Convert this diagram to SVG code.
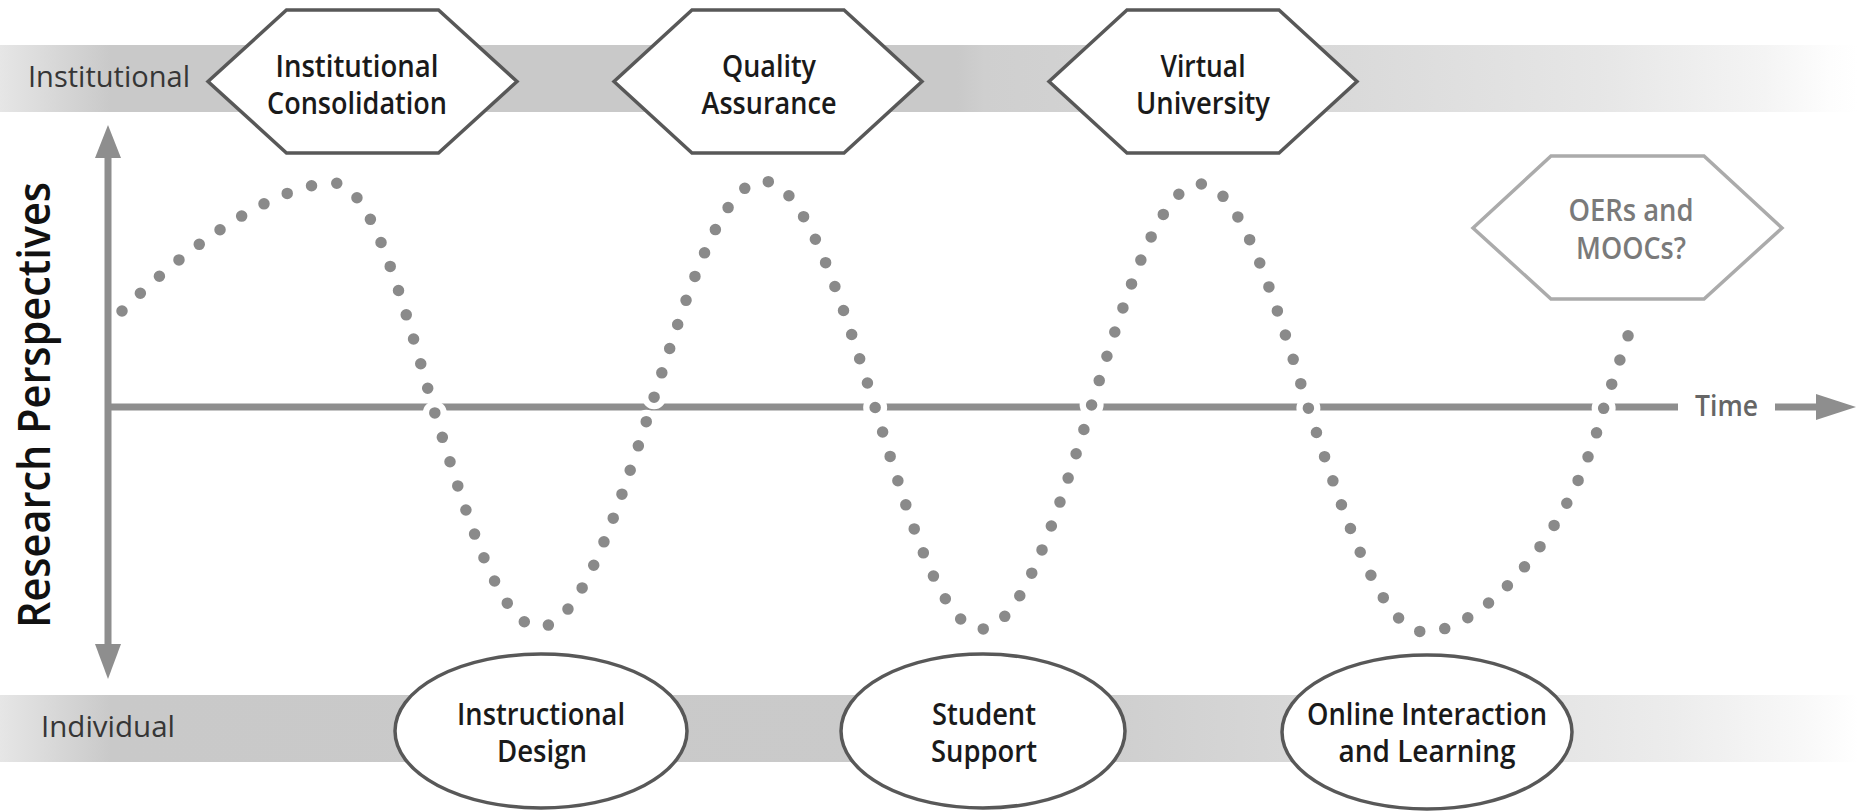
<svg xmlns="http://www.w3.org/2000/svg" width="1858" height="811" viewBox="0 0 1858 811">
<defs>
<linearGradient id="gradTop" x1="0" y1="0" x2="1858" y2="0" gradientUnits="userSpaceOnUse">
<stop offset="0" stop-color="#e6e6e6"/>
<stop offset="0.06" stop-color="#c9c9c9"/>
<stop offset="0.515" stop-color="#c9c9c9"/>
<stop offset="0.53" stop-color="#cfcfcf"/>
<stop offset="0.73" stop-color="#dadada"/>
<stop offset="0.86" stop-color="#e6e6e6"/>
<stop offset="0.95" stop-color="#f4f4f4"/>
<stop offset="0.985" stop-color="#fdfdfd"/>
<stop offset="1" stop-color="#ffffff"/>
</linearGradient>
<linearGradient id="gradBottom" x1="0" y1="0" x2="1858" y2="0" gradientUnits="userSpaceOnUse">
<stop offset="0" stop-color="#e6e6e6"/>
<stop offset="0.06" stop-color="#c9c9c9"/>
<stop offset="0.5" stop-color="#cacaca"/>
<stop offset="0.6" stop-color="#cfcfcf"/>
<stop offset="0.69" stop-color="#d7d7d7"/>
<stop offset="0.8" stop-color="#e1e1e1"/>
<stop offset="0.9" stop-color="#ececec"/>
<stop offset="0.97" stop-color="#f8f8f8"/>
<stop offset="1" stop-color="#ffffff"/>
</linearGradient>
<style>
.band-label { font-family: "Open Sans", "Liberation Sans", sans-serif; font-size: 30px; fill: #363636; }
.node-text { font-family: "Open Sans", "Liberation Sans", sans-serif; font-size: 30px; font-weight: 600; fill: #1a1a1a; text-anchor: middle; }
.faded-text { fill: #7a7a7a; }
.axis-title { font-family: "Open Sans", "Liberation Sans", sans-serif; font-size: 45px; font-weight: 600; fill: #111111; text-anchor: middle; }
.time-label { font-family: "Open Sans", "Liberation Sans", sans-serif; font-size: 29px; font-weight: 600; fill: #666666; }
.hex { fill: #ffffff; stroke: #585858; stroke-width: 3.5; }
.hex-faded { fill: #ffffff; stroke: #ababab; stroke-width: 3.5; }
.ell { fill: #ffffff; stroke: #585858; stroke-width: 3.5; }
.axis { fill: none; stroke: #8e8e8e; stroke-width: 7; }
.head { fill: #8e8e8e; }
.halo { fill: none; stroke: #ffffff; stroke-width: 24; stroke-linecap: round; stroke-dasharray: 0 25.5; }
.wave { fill: none; stroke: #8a8a8a; stroke-width: 11.5; stroke-linecap: round; stroke-dasharray: 0 25.5; }
</style>
</defs>
<rect x="0" y="0" width="1858" height="811" fill="#ffffff"/>

<g id="bands">
<rect x="0" y="45" width="1858" height="67" fill="url(#gradTop)"/>
<rect x="0" y="695" width="1858" height="67" fill="url(#gradBottom)"/>
<text class="band-label" x="28" y="87" textLength="162" lengthAdjust="spacingAndGlyphs">Institutional</text>
<text class="band-label" x="41" y="737" textLength="134" lengthAdjust="spacingAndGlyphs">Individual</text>
</g>

<g id="axis-title">
<text class="axis-title" transform="translate(50,405) rotate(-90)" textLength="446" lengthAdjust="spacingAndGlyphs">Research Perspectives</text>
</g>

<g id="connectors">
<line class="axis" x1="108" y1="407" x2="1678" y2="407"/>
<path id="wave-halo" class="halo" d="M122,311 C192,241 280,183 334,183 C369.8,183 400.7,292.3 433,407 C467.6,519.6 500.6,627 539,627 C579.5,627 614.5,519.6 651,407 C687.5,291.3 722.5,181 763,181 C803.5,181 838.5,291.3 875,407 C909.6,520.7 942.6,629 981,629 C1020.8,629 1055.1,520.7 1091,407 C1126.5,292.8 1160.5,184 1200,184 C1239.1,184 1272.8,292.8 1308,407 C1346.1,522.2 1382.6,632 1425,632 C1480,632 1570,540 1604,407 L1629,333"/>
<path id="wave" class="wave" d="M122,311 C192,241 280,183 334,183 C369.8,183 400.7,292.3 433,407 C467.6,519.6 500.6,627 539,627 C579.5,627 614.5,519.6 651,407 C687.5,291.3 722.5,181 763,181 C803.5,181 838.5,291.3 875,407 C909.6,520.7 942.6,629 981,629 C1020.8,629 1055.1,520.7 1091,407 C1126.5,292.8 1160.5,184 1200,184 C1239.1,184 1272.8,292.8 1308,407 C1346.1,522.2 1382.6,632 1425,632 C1480,632 1570,540 1604,407 L1629,333"/>
<line class="axis" x1="108" y1="156" x2="108" y2="646" stroke-width="8"/>
<polygon class="head" points="95,158 108,125 121,158"/>
<polygon class="head" points="95,644 108,679 121,644"/>
<line class="axis" x1="1775" y1="407" x2="1820" y2="407"/>
<polygon class="head" points="1816,394 1856,407 1816,420"/>
<text class="time-label" x="1695" y="416" textLength="63" lengthAdjust="spacingAndGlyphs">Time</text>
</g>

<g id="node-institutional-consolidation">
<polygon class="hex" points="208,81.5 286.5,10 438.5,10 517,81.5 438.5,153 286.5,153"/>
<text class="node-text" x="357" y="77" textLength="163" lengthAdjust="spacingAndGlyphs">Institutional</text>
<text class="node-text" x="357" y="114" textLength="180" lengthAdjust="spacingAndGlyphs">Consolidation</text>
</g>

<g id="node-quality-assurance">
<polygon class="hex" points="614,81.5 692,10 844,10 922,81.5 844,153 692,153"/>
<text class="node-text" x="769" y="77" textLength="94" lengthAdjust="spacingAndGlyphs">Quality</text>
<text class="node-text" x="769" y="114" textLength="135" lengthAdjust="spacingAndGlyphs">Assurance</text>
</g>

<g id="node-virtual-university">
<polygon class="hex" points="1049,81.5 1127,10 1279,10 1357,81.5 1279,153 1127,153"/>
<text class="node-text" x="1203" y="77" textLength="85" lengthAdjust="spacingAndGlyphs">Virtual</text>
<text class="node-text" x="1203" y="114" textLength="134" lengthAdjust="spacingAndGlyphs">University</text>
</g>

<g id="node-oers-moocs">
<polygon class="hex-faded" points="1473,228 1551,156 1704,156 1782,228 1704,299 1551,299"/>
<text class="node-text faded-text" x="1631" y="221" textLength="125" lengthAdjust="spacingAndGlyphs">OERs and</text>
<text class="node-text faded-text" x="1631" y="259" textLength="110" lengthAdjust="spacingAndGlyphs">MOOCs?</text>
</g>

<g id="node-instructional-design">
<ellipse class="ell" cx="541" cy="731" rx="146" ry="77"/>
<text class="node-text" x="541" y="725" textLength="168" lengthAdjust="spacingAndGlyphs">Instructional</text>
<text class="node-text" x="542" y="762" textLength="90" lengthAdjust="spacingAndGlyphs">Design</text>
</g>

<g id="node-student-support">
<ellipse class="ell" cx="983" cy="731" rx="142" ry="77"/>
<text class="node-text" x="984" y="725" textLength="104" lengthAdjust="spacingAndGlyphs">Student</text>
<text class="node-text" x="984" y="762" textLength="106" lengthAdjust="spacingAndGlyphs">Support</text>
</g>

<g id="node-online-interaction">
<ellipse class="ell" cx="1427" cy="732" rx="145" ry="77"/>
<text class="node-text" x="1427" y="725" textLength="240" lengthAdjust="spacingAndGlyphs">Online Interaction</text>
<text class="node-text" x="1427" y="762" textLength="177" lengthAdjust="spacingAndGlyphs">and Learning</text>
</g>
</svg>
